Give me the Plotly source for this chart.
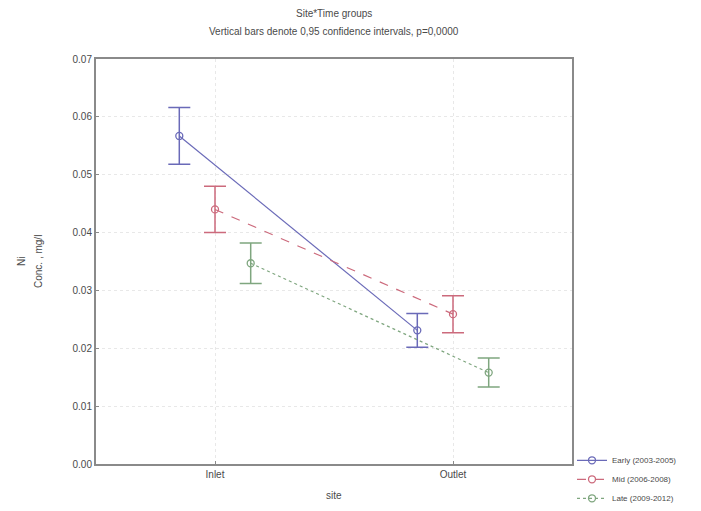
import plotly.graph_objects as go

# Site x time-group means of Ni concentration with 95% confidence half-widths
sites = ["Inlet", "Outlet"]
groups = ["Early (2003-2005)", "Mid (2006-2008)", "Late (2009-2012)"]
means = {
    "Early (2003-2005)": [0.0567, 0.0231],
    "Mid (2006-2008)": [0.0440, 0.0259],
    "Late (2009-2012)": [0.0347, 0.0158],
}
ci_half = {
    "Early (2003-2005)": [0.0049, 0.0029],
    "Mid (2006-2008)": [0.0040, 0.0032],
    "Late (2009-2012)": [0.0035, 0.0025],
}
y_ticks = [0.00, 0.01, 0.02, 0.03, 0.04, 0.05, 0.06, 0.07]

# styling per group
colors = {
    "Early (2003-2005)": "#6a6ab8",
    "Mid (2006-2008)": "#cc6a7c",
    "Late (2009-2012)": "#7fa67f",
}
dashes = {
    "Early (2003-2005)": "solid",
    "Mid (2006-2008)": "dash",
    "Late (2009-2012)": "dot",
}
offsets = {"Early (2003-2005)": -0.15, "Mid (2006-2008)": 0.0, "Late (2009-2012)": 0.15}

txt = "#4a4a4a"
font_family = "Liberation Sans, Arial, sans-serif"

fig = go.Figure()
for g in groups:
    xs = [i + offsets[g] for i in range(len(sites))]
    fig.add_trace(go.Scatter(
        x=xs, y=means[g], name=g, mode="lines+markers",
        line=dict(color=colors[g], width=1.2, dash=dashes[g]),
        marker=dict(symbol="circle-open", size=7, color=colors[g], line=dict(width=1.3)),
        error_y=dict(type="data", array=ci_half[g], visible=True,
                     color=colors[g], thickness=1.5, width=11),
    ))

fig.update_layout(
    width=701, height=511,
    margin=dict(l=96, r=129, t=59, b=47, autoexpand=False),
    paper_bgcolor="white", plot_bgcolor="white",
    font=dict(family=font_family, color=txt, size=10),
    showlegend=True,
    legend=dict(x=1.0, y=0.045, xanchor="left", yanchor="top",
                font=dict(size=8, color=txt), bgcolor="rgba(0,0,0,0)",
                tracegroupgap=0, itemwidth=30),
    annotations=[
        dict(text="Site*Time groups", x=0.5, y=1.0, xref="paper", yref="paper",
             yshift=46, showarrow=False, font=dict(size=10, color=txt),
             xanchor="center", yanchor="middle"),
        dict(text="Vertical bars denote 0,95 confidence intervals, p=0,0000", x=0.5, y=1.0,
             xref="paper", yref="paper", yshift=28, showarrow=False,
             font=dict(size=10, color=txt), xanchor="center", yanchor="middle"),
        dict(text="Ni", x=0, y=0.5, xref="paper", yref="paper", xshift=-82,
             textangle=-90, showarrow=False, font=dict(size=10, color=txt)),
        dict(text="Conc. , mg/l", x=0, y=0.5, xref="paper", yref="paper", xshift=-65,
             textangle=-90, showarrow=False, font=dict(size=10, color=txt)),
        dict(text="site", x=0.5, y=0, xref="paper", yref="paper", yshift=-39,
             showarrow=False, font=dict(size=10, color=txt)),
    ],
)

fig.update_xaxes(
    range=[-0.5, 1.5], tickvals=list(range(len(sites))), ticktext=sites,
    showgrid=True, gridcolor="#e8e8e8", griddash="dot", gridwidth=1,
    showline=True, linecolor="#8a8a8a", linewidth=2, mirror=True,
    ticks="inside", ticklen=3, tickcolor="#8a8a8a",
    zeroline=False, tickfont=dict(size=10, color=txt),
)
fig.update_yaxes(
    range=[0, 0.07], tickvals=y_ticks, tickformat=".2f",
    showgrid=True, gridcolor="#e8e8e8", griddash="dot", gridwidth=1,
    showline=True, linecolor="#8a8a8a", linewidth=2, mirror=True,
    ticks="inside", ticklen=3, tickcolor="#8a8a8a",
    zeroline=False, tickfont=dict(size=10, color=txt),
)

fig.write_html("out.html")
